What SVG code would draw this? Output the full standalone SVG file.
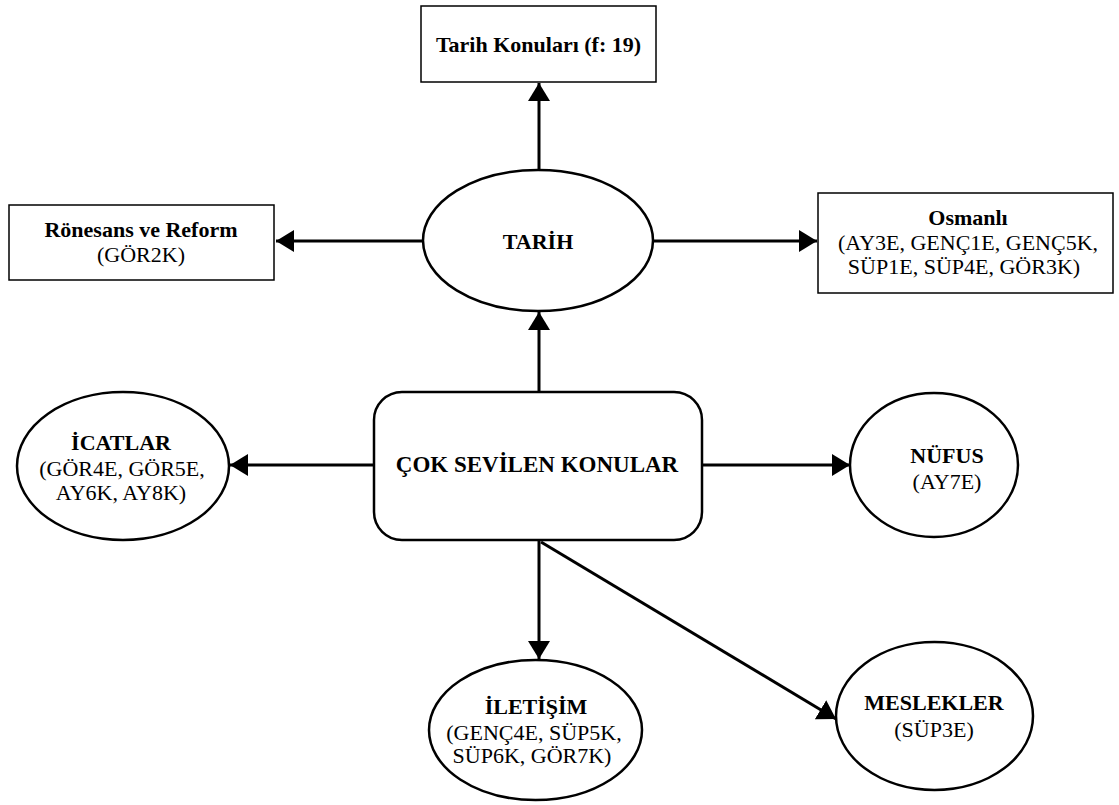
<svg xmlns="http://www.w3.org/2000/svg" width="1119" height="805" viewBox="0 0 1119 805">
<style>
text{font-size:22px;fill:#000;text-anchor:middle}
.b{font-weight:bold}
.box{fill:#fff;stroke:#000;stroke-width:1.5}
.ell{fill:#fff;stroke:#000;stroke-width:2.5}
.main{fill:#fff;stroke:#000;stroke-width:2.5}
.edge{stroke:#000;stroke-width:3;fill:none;marker-end:url(#ah)}
</style>
<defs>
<marker id="ah" markerUnits="userSpaceOnUse" markerWidth="19" markerHeight="22" refX="18" refY="11" orient="auto">
<path d="M0,0 L18,11 L0,22 Z" fill="#000"/>
</marker>
</defs>
<g id="connectors">
<line class="edge" x1="539" y1="170" x2="539" y2="83"/>
<line class="edge" x1="423" y1="241" x2="276" y2="241"/>
<line class="edge" x1="653" y1="241" x2="817" y2="241"/>
<line class="edge" x1="539" y1="392" x2="539" y2="312"/>
<line class="edge" x1="374" y1="465" x2="230" y2="465"/>
<line class="edge" x1="702" y1="465" x2="850" y2="465"/>
<line class="edge" x1="539" y1="540" x2="539" y2="659"/>
<line class="edge" x1="541" y1="542" x2="836" y2="719"/>
</g>
<g font-family="Liberation Serif, Times New Roman, DejaVu Serif, serif">
<g id="tarih-konulari">
<rect class="box" x="421" y="6" width="235" height="76"/>
<text class="b" x="538.5" y="52">Tarih Konuları (f: 19)</text>
</g>
<g id="tarih">
<ellipse class="ell" cx="538" cy="240.5" rx="115" ry="70.5"/>
<text class="b" x="538" y="249">TARİH</text>
</g>
<g id="ronesans">
<rect class="box" x="9" y="205" width="265" height="75"/>
<text class="b" x="141" y="237">Rönesans ve Reform</text>
<text x="141" y="262">(GÖR2K)</text>
</g>
<g id="osmanli">
<rect class="box" x="818" y="193" width="295" height="100"/>
<text class="b" x="968" y="225">Osmanlı</text>
<text x="968" y="250">(AY3E, GENÇ1E, GENÇ5K,</text>
<text x="964" y="274">SÜP1E, SÜP4E, GÖR3K)</text>
</g>
<g id="cok-sevilen">
<rect class="main" x="374" y="392" width="328" height="148" rx="28" ry="28"/>
<text class="b" x="537" y="472" style="font-size:23px">ÇOK SEVİLEN KONULAR</text>
</g>
<g id="icatlar">
<ellipse class="ell" cx="123" cy="466" rx="106" ry="74"/>
<text class="b" x="121" y="450">İCATLAR</text>
<text x="122" y="476">(GÖR4E, GÖR5E,</text>
<text x="121" y="500">AY6K, AY8K)</text>
</g>
<g id="nufus">
<ellipse class="ell" cx="934" cy="465" rx="84" ry="72"/>
<text class="b" x="947" y="463">NÜFUS</text>
<text x="947" y="489">(AY7E)</text>
</g>
<g id="iletisim">
<ellipse class="ell" cx="535.5" cy="730" rx="106.5" ry="70"/>
<text class="b" x="536" y="714">İLETİŞİM</text>
<text x="534" y="740">(GENÇ4E, SÜP5K,</text>
<text x="532" y="763">SÜP6K, GÖR7K)</text>
</g>
<g id="meslekler">
<ellipse class="ell" cx="934.5" cy="716" rx="98.5" ry="74"/>
<text class="b" x="934" y="710">MESLEKLER</text>
<text x="934" y="737">(SÜP3E)</text>
</g>
</g>
</svg>
